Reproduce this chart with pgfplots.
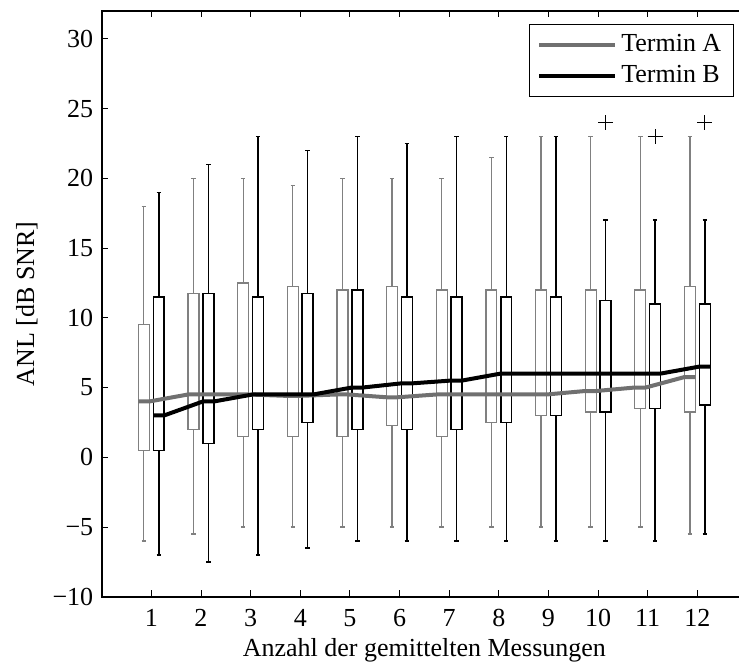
\documentclass[border=0pt]{standalone}
\usepackage{fontspec}
\setmainfont{Liberation Serif}
\usepackage{pgfplots}
\pgfplotsset{compat=1.18}
\usepgfplotslibrary{statistics}
\definecolor{boxgray}{RGB}{128,128,128}
\definecolor{linegray}{RGB}{112,112,112}
% #1 position, #2 lower whisker, #3 lower quartile, #4 median, #5 upper quartile, #6 upper whisker
\newcommand{\boxA}[6]{\addplot[forget plot, draw=boxgray, line width=1.2pt,
  boxplot prepared={draw position=#1, lower whisker=#2, lower quartile=#3, median=#4,
  upper quartile=#5, upper whisker=#6, box extend=0.22, whisker extend=0.09}] coordinates {};}
\newcommand{\boxB}[6]{\addplot[forget plot, draw=black, line width=1.5pt,
  boxplot prepared={draw position=#1, lower whisker=#2, lower quartile=#3, median=#4,
  upper quartile=#5, upper whisker=#6, box extend=0.22, whisker extend=0.09}] coordinates {};}
\begin{document}
\begin{tikzpicture}
\begin{axis}[name=ax, scale only axis, width=645.3pt, height=585.7pt,
  xmin=0, xmax=13, ymin=-10, ymax=32,
  boxplot/draw direction=y,
  xtick={1,2,...,12}, ytick={-10,-5,0,5,10,15,20,25,30},
  yticklabels={−10,−5,0,5,10,15,20,25,30},
  /pgf/number format/assume math mode=true,
  tick align=inside, major tick length=6.5pt,
  every tick/.style={black, line width=0.9pt},
  axis line style={line width=2pt},
  tick label style={font=\fontsize{26}{31}\selectfont},
  yticklabel style={xshift=-5pt},
  xticklabel style={yshift=-9pt},
  label style={font=\fontsize{26}{31}\selectfont},
  xlabel={Anzahl der gemittelten Messungen},
  ylabel={ANL [dB SNR]},
  xlabel style={yshift=-5pt},
  ylabel style={yshift=8pt},
  legend cell align=left,
  legend style={at={(1,1)}, anchor=north east, xshift=-13pt, yshift=-13pt,
    draw=black, line width=1.5pt, font=\fontsize{26}{31}\selectfont,
    inner xsep=8pt, inner ysep=5pt, row sep=0pt,
    nodes={inner xsep=4pt, inner ysep=4pt, text height=18pt, text depth=5pt}},
  legend image code/.code={\draw[#1] (0pt,0pt) -- (76pt,0pt);},
]
\boxA{0.85}{-6}{0.5}{4}{9.5}{18}
\boxB{1.15}{-7}{0.5}{3}{11.5}{19}
\boxA{1.85}{-5.5}{2}{4.5}{11.75}{20}
\boxB{2.15}{-7.5}{1}{4}{11.75}{21}
\boxA{2.85}{-5}{1.5}{4.5}{12.5}{20}
\boxB{3.15}{-7}{2}{4.5}{11.5}{23}
\boxA{3.85}{-5}{1.5}{4.4}{12.25}{19.5}
\boxB{4.15}{-6.5}{2.5}{4.5}{11.75}{22}
\boxA{4.85}{-5}{1.5}{4.5}{12}{20}
\boxB{5.15}{-6}{2}{5}{12}{23}
\boxA{5.85}{-5}{2.25}{4.3}{12.25}{20}
\boxB{6.15}{-6}{2}{5.3}{11.5}{22.5}
\boxA{6.85}{-5}{1.5}{4.5}{12}{20}
\boxB{7.15}{-6}{2}{5.5}{11.5}{23}
\boxA{7.85}{-5}{2.5}{4.5}{12}{21.5}
\boxB{8.15}{-6}{2.5}{6}{11.5}{23}
\boxA{8.85}{-5}{3}{4.5}{12}{23}
\boxB{9.15}{-6}{3}{6}{11.5}{23}
\boxA{9.85}{-5}{3.25}{4.75}{12}{23}
\boxB{10.15}{-6}{3.25}{6}{11.25}{17}
\boxA{10.85}{-5}{3.5}{5}{12}{23}
\boxB{11.15}{-6}{3.5}{6}{11}{17}
\boxA{11.85}{-5.5}{3.25}{5.75}{12.25}{23}
\boxB{12.15}{-5.5}{3.75}{6.5}{11}{17}
\addplot[forget plot, only marks, mark=+, mark size=7.5pt, black, line width=1.2pt]
  coordinates {(10.15,24) (11.15,23) (12.15,24)};
\addplot[linegray, line width=4pt, line join=round] coordinates {
  (0.74,4) (0.96,4) (1.74,4.5) (1.96,4.5) (2.74,4.5) (2.96,4.5)
  (3.74,4.4) (3.96,4.4) (4.74,4.5) (4.96,4.5) (5.74,4.3) (5.96,4.3)
  (6.74,4.5) (6.96,4.5) (7.74,4.5) (7.96,4.5) (8.74,4.5) (8.96,4.5)
  (9.74,4.75) (9.96,4.75) (10.74,5) (10.96,5) (11.74,5.75) (11.96,5.75)};
\addlegendentry{Termin A}
\addplot[black, line width=4pt, line join=round] coordinates {
  (1.04,3) (1.26,3) (2.04,4) (2.26,4) (3.04,4.5) (3.26,4.5)
  (4.04,4.5) (4.26,4.5) (5.04,5) (5.26,5) (6.04,5.3) (6.26,5.3)
  (7.04,5.5) (7.26,5.5) (8.04,6) (8.26,6) (9.04,6) (9.26,6)
  (10.04,6) (10.26,6) (11.04,6) (11.26,6) (12.04,6.5) (12.26,6.5)};
\addlegendentry{Termin B}
\end{axis}
\pgfresetboundingbox
\path (ax.south west) ++(-101.7pt,-67.3pt) rectangle ++(739pt,664pt);
\end{tikzpicture}
\end{document}
